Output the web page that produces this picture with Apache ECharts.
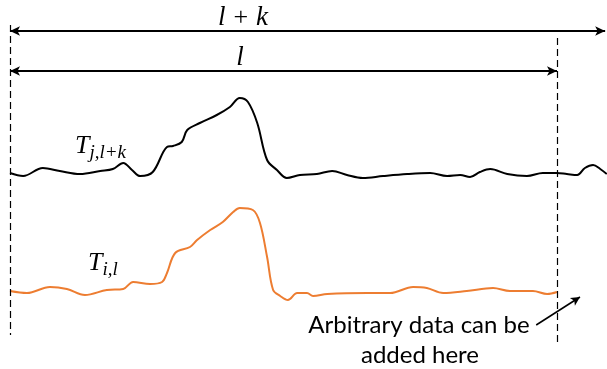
<!DOCTYPE html>
<html><head><meta charset="utf-8">
<script src="https://cdn.jsdelivr.net/npm/echarts@6/dist/echarts.min.js"></script>
<style>html,body{margin:0;padding:0;background:#fff}#c{width:607px;height:369px}</style>
</head><body><div id="c"></div>
<script>
// time index: 0 = start, 100 = end of length l
const tjTime = [0,2.4,6.0,9.1,12.8,16.5,18.8,20.7,22.3,23.8,26.1,28.7,29.8,31.4,32.4,34.7,37.8,40.2,42.0,43.5,45.2,47.0,48.8,50.6,53.0,56.1,58.9,61.6,64.5,68.2,72.6,76.8,79.9,82.3,84.1,85.9,87.8,90.9,94.5,97.4,100,101.8,103.7,105.1,106.6,107.9,109.1];
const tjValues = [0,-3,5,2,-1,2,4,10,3,-3,1,26,27,31,43,50,58,66,75,71,50,13,3,-5,-2,-1,2,-2,-5,-3,-1,0,-3,-2,-4,1,4,-1,-3,0,0,-1,-2,5,8,4,-1];
const tiTime = [0,3.1,7.3,10.4,13.7,17.7,20.7,22.5,25.6,27.8,28.7,30.2,32.9,34.2,36.6,38.9,40.8,42.0,44.4,45.7,47.0,48.1,49.4,50.8,52.5,54.3,55.4,58.0,65.3,69.5,73.7,76.2,79.2,83.5,88.3,91.4,95.6,98.2,100];
const tiValues = [0,-2,4,2,-4,1,2,9,7,9,18,38,44,51,61,69,79,83,81,68,34,1,-5,-9,-2,-2,-5,-3,-2,-2,4,3,-2,0,3,0,0,-3,-1];
const lengthL = 100, lengthLK = 108.8, xMax = 109.14;
const noteLines = ['Arbitrary data can be', 'added here'];

const chart = echarts.init(document.getElementById('c'));
const pair = (t, v) => t.map((x, i) => [x, v[i]]);
const axX = i => ({type:'value', gridIndex:i, min:0, max:xMax, show:false});
const MF = 'Liberation Serif';
const dash = {type:[7,4], width:1.2, color:'#000'};
chart.setOption({
  animation:false,
  grid:[
    {left:10, right:0, top:83, height:110},
    {left:10, right:0, top:201, height:110},
    {left:10, right:0, top:0, height:369}
  ],
  xAxis:[axX(0), axX(1), axX(2)],
  yAxis:[
    {type:'value', gridIndex:0, min:-20, max:90, show:false},
    {type:'value', gridIndex:1, min:-20, max:90, show:false},
    {type:'value', gridIndex:2, min:0, max:369, show:false}
  ],
  series:[
    {type:'line', xAxisIndex:0, yAxisIndex:0, data:pair(tjTime,tjValues), showSymbol:false, smooth:0.35,
     lineStyle:{color:'#000', width:2}},
    {type:'line', xAxisIndex:1, yAxisIndex:1, data:pair(tiTime,tiValues), showSymbol:false, smooth:0.35,
     lineStyle:{color:'#ED7D31', width:2}},
    {type:'line', xAxisIndex:2, yAxisIndex:2, data:[], silent:true,
     markLine:{silent:true, animation:false, symbol:'none', label:{show:false},
       data:[
         [{coord:[0,344], lineStyle:dash},{coord:[0,34]}],
         [{coord:[lengthL,331], lineStyle:dash},{coord:[lengthL,24]}],
         [{coord:[0,338], symbol:'arrow', symbolSize:[7,10], lineStyle:{type:'solid', width:2, color:'#000'}},{coord:[lengthLK,338], symbol:'arrow', symbolSize:[7,10]}],
         [{coord:[0,298], symbol:'arrow', symbolSize:[7,10], lineStyle:{type:'solid', width:2, color:'#000'}},{coord:[lengthL,298], symbol:'arrow', symbolSize:[7,10]}],
         [{coord:[96.2,44], symbol:'none', lineStyle:{type:'solid', width:1.5, color:'#000'}},{coord:[104.2,72], symbol:'arrow', symbolSize:[7,9]}]
       ]}}
  ],
  graphic:[
    {type:'text', x:243, y:18, style:{text:'{i|l}{u|+}{i|k}', align:'center', verticalAlign:'middle', rich:{i:{fontFamily:MF, fontStyle:'italic', fontSize:27, fill:'#000'}, u:{fontFamily:MF, fontSize:26, fill:'#000', padding:[0,8,0,8]}}}},
    {type:'text', x:240, y:58, style:{text:'{i|l}', align:'center', verticalAlign:'middle', rich:{i:{fontFamily:MF, fontStyle:'italic', fontSize:27, fill:'#000'}}}},
    {type:'text', x:75, y:130, style:{text:'{t|T}{s|j,l+k}', rich:{t:{fontFamily:MF, fontStyle:'italic', fontSize:26, fill:'#000'}, s:{fontFamily:MF, fontStyle:'italic', fontSize:19, fill:'#000', padding:[13,0,0,0]}}}},
    {type:'text', x:88, y:247, style:{text:'{t|T}{s|i,l}', rich:{t:{fontFamily:MF, fontStyle:'italic', fontSize:26, fill:'#000'}, s:{fontFamily:MF, fontStyle:'italic', fontSize:19, fill:'#000', padding:[13,0,0,0]}}}},
    {type:'text', x:419, y:325, style:{text:noteLines[0], font:'24px Lato', fill:'#000', align:'center', verticalAlign:'middle'}},
    {type:'text', x:420, y:355, style:{text:noteLines[1], font:'24px Lato', fill:'#000', align:'center', verticalAlign:'middle'}}
  ]
});
</script></body></html>
